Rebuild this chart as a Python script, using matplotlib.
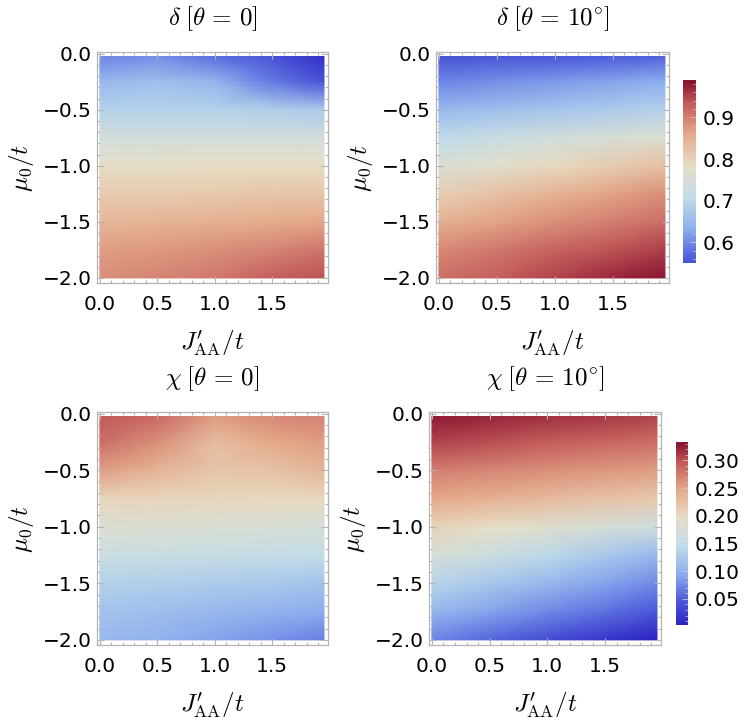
import numpy as np
import matplotlib
matplotlib.use("Agg")
import matplotlib.pyplot as plt
from matplotlib.colors import LinearSegmentedColormap, Normalize
from matplotlib.cm import ScalarMappable
from matplotlib.ticker import MultipleLocator

plt.rcParams['font.family'] = ['DejaVu Sans']
plt.rcParams['mathtext.fontset'] = 'cm'

# grid coordinates
J_vals = [0.0, 0.5, 1.0, 1.5, 1.95]
mu_vals = [-0.025, -0.25, -0.5, -0.75, -1.0, -1.25, -1.5, -1.75, -2.0]

delta_theta0 = [
    [0.600, 0.610, 0.580, 0.555, 0.510],
    [0.655, 0.665, 0.650, 0.590, 0.555],
    [0.695, 0.695, 0.695, 0.690, 0.680],
    [0.745, 0.745, 0.745, 0.745, 0.745],
    [0.785, 0.785, 0.790, 0.790, 0.790],
    [0.815, 0.815, 0.820, 0.825, 0.825],
    [0.845, 0.850, 0.855, 0.860, 0.865],
    [0.875, 0.880, 0.890, 0.900, 0.915],
    [0.890, 0.900, 0.910, 0.935, 0.945],
]
delta_theta10 = [
    [0.555, 0.560, 0.560, 0.565, 0.570],
    [0.600, 0.610, 0.620, 0.630, 0.640],
    [0.655, 0.665, 0.675, 0.685, 0.695],
    [0.710, 0.725, 0.740, 0.755, 0.765],
    [0.760, 0.775, 0.795, 0.815, 0.830],
    [0.810, 0.830, 0.850, 0.870, 0.890],
    [0.855, 0.870, 0.890, 0.905, 0.920],
    [0.895, 0.910, 0.930, 0.945, 0.960],
    [0.920, 0.935, 0.955, 0.975, 0.990],
]
chi_theta0 = [
    [0.300, 0.290, 0.258, 0.270, 0.274],
    [0.287, 0.267, 0.232, 0.250, 0.257],
    [0.257, 0.240, 0.224, 0.227, 0.240],
    [0.208, 0.208, 0.207, 0.206, 0.205],
    [0.185, 0.183, 0.180, 0.178, 0.175],
    [0.161, 0.159, 0.157, 0.155, 0.152],
    [0.138, 0.135, 0.131, 0.127, 0.122],
    [0.122, 0.117, 0.111, 0.105, 0.099],
    [0.112, 0.104, 0.094, 0.083, 0.072],
]
chi_theta10 = [
    [0.330, 0.325, 0.320, 0.315, 0.310],
    [0.310, 0.305, 0.298, 0.292, 0.287],
    [0.277, 0.272, 0.267, 0.262, 0.257],
    [0.250, 0.243, 0.235, 0.227, 0.220],
    [0.210, 0.199, 0.188, 0.176, 0.165],
    [0.178, 0.162, 0.145, 0.128, 0.112],
    [0.142, 0.126, 0.110, 0.094, 0.079],
    [0.109, 0.094, 0.079, 0.064, 0.049],
    [0.076, 0.058, 0.040, 0.022, 0.005],
]

titles = [r'$\delta\;[\theta\,=\,0]$', r'$\delta\;[\theta\,=\,10^{\circ}]$',
          r'$\chi\;[\theta\,=\,0]$', r'$\chi\;[\theta\,=\,10^{\circ}]$']
x_ticks = [0.0, 0.5, 1.0, 1.5]
y_ticks = [-2.0, -1.5, -1.0, -0.5, 0.0]
delta_cbar_ticks = [0.6, 0.7, 0.8, 0.9]
chi_cbar_ticks = [0.05, 0.10, 0.15, 0.20, 0.25, 0.30]

cmap = LinearSegmentedColormap.from_list('thermo', [
    (0.00, '#2a1fbf'), (0.14, '#4b57da'), (0.29, '#8badee'),
    (0.445, '#c2dde9'), (0.60, '#e7ddc4'), (0.75, '#e5a98a'),
    (0.90, '#c35a5a'), (1.00, '#8a1530')])

delta_norm = Normalize(0.49, 0.99)
chi_norm = Normalize(0.003, 0.333)

fig = plt.figure(figsize=(7.47, 7.2), dpi=100)

W, H = 747, 720
def pos(l, r, t, b):
    return [l / W, 1 - b / H, (r - l) / W, (b - t) / H]

ax_pos = [pos(97, 328, 52, 283), pos(436, 669, 52, 283),
          pos(97, 328, 412, 645), pos(429, 661, 412, 645)]
data = [delta_theta0, delta_theta10, chi_theta0, chi_theta10]
norms = [delta_norm, delta_norm, chi_norm, chi_norm]

X, Y = np.meshgrid(J_vals, mu_vals)
frame_col = '#b4b4b4'
for i in range(4):
    ax = fig.add_axes(ax_pos[i])
    ax.pcolormesh(X, Y, np.array(data[i]), cmap=cmap, norm=norms[i],
                  shading='gouraud')
    ax.set_xlim(-0.025, 1.985)
    ax.set_ylim(-2.045, 0.015)
    ax.set_xticks(x_ticks)
    ax.set_yticks(y_ticks)
    ax.set_xticklabels([f'{v:.1f}' for v in x_ticks])
    ax.set_yticklabels([f'{v:.1f}'.replace('-', '\u2212') for v in y_ticks])
    ax.xaxis.set_minor_locator(MultipleLocator(0.1))
    ax.yaxis.set_minor_locator(MultipleLocator(0.1))
    ax.tick_params(which='both', direction='in', top=True, right=True,
                   color=frame_col, labelsize=14.5, labelcolor='black', width=0.8)
    ax.tick_params(which='major', length=5)
    ax.tick_params(which='minor', length=2.5)
    ax.tick_params(axis='x', which='major', pad=9)
    ax.tick_params(axis='y', which='major', pad=4)
    for s in ax.spines.values():
        s.set_color(frame_col)
        s.set_linewidth(0.9)
    ax.set_title(titles[i], fontsize=18, pad=19)
    ax.set_xlabel(r"$J^{\prime}_{\rm AA}/t$", fontsize=18, labelpad=10)
    ax.set_ylabel(r'$\mu_0/t$', fontsize=18, labelpad=5)

# colorbars
cax1 = fig.add_axes(pos(683, 696, 80, 263))
cb1 = fig.colorbar(ScalarMappable(norm=delta_norm, cmap=cmap), cax=cax1,
                   boundaries=np.linspace(0.55, 0.99, 300))
cb1.set_ticks(delta_cbar_ticks)
cb1.set_ticklabels([f'{v:.1f}' for v in delta_cbar_ticks])

cax2 = fig.add_axes(pos(676, 688, 442, 625))
cb2 = fig.colorbar(ScalarMappable(norm=chi_norm, cmap=cmap), cax=cax2,
                   boundaries=np.linspace(0.003, 0.333, 300))
cb2.set_ticks(chi_cbar_ticks)
cb2.set_ticklabels([f'{v:.2f}' for v in chi_cbar_ticks])

for cb in (cb1, cb2):
    cb.outline.set_visible(False)
    cb.ax.tick_params(which='major', direction='in', length=4, color='#cccccc',
                      labelsize=14.5, pad=5, width=0.6)
    cb.ax.minorticks_on()
    cb.ax.tick_params(which='minor', direction='in', length=2, color='#cccccc', width=0.5)
    cb.solids.set_edgecolor('face')

fig.savefig('out.png', dpi=100)
